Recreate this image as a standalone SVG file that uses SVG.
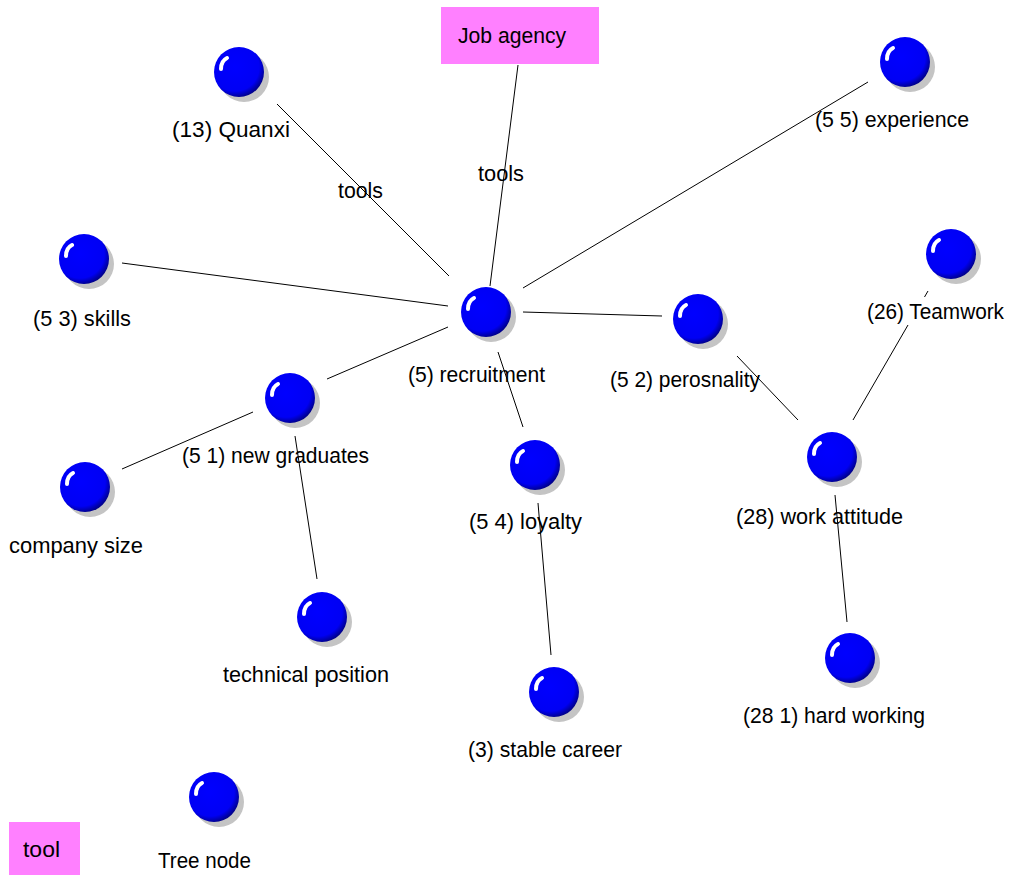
<svg xmlns="http://www.w3.org/2000/svg" width="1011" height="875" viewBox="0 0 1011 875">
<style>
text{font-family:"Liberation Sans",Arial,sans-serif;font-size:22px;fill:#000}
.edge{stroke:#000;stroke-width:1;fill:none}
.box{fill:#ff80ff}
</style>
<defs>
<radialGradient id="bg" cx="0.42" cy="0.4" r="0.62">
<stop offset="0" stop-color="#0000ff"/>
<stop offset="0.78" stop-color="#0000f4"/>
<stop offset="1" stop-color="#000088"/>
</radialGradient>
<g id="ball">
<circle cx="5" cy="5" r="25" fill="#c4c4c4"/>
<circle r="25" fill="url(#bg)"/>
<path d="M -18 -3 Q -18 -11 -12 -14" stroke="#fff" stroke-width="4" fill="none" stroke-linecap="round"/>
</g>
</defs>
<rect width="1011" height="875" fill="#fff"/>
<g id="connectors">
<line class="edge" x1="277" y1="104" x2="449" y2="276"/>
<line class="edge" x1="518" y1="65" x2="490" y2="286"/>
<line class="edge" x1="868" y1="82" x2="523" y2="288"/>
<line class="edge" x1="122" y1="263" x2="448" y2="306"/>
<line class="edge" x1="448" y1="327" x2="327" y2="379"/>
<line class="edge" x1="253" y1="412" x2="122" y2="469"/>
<line class="edge" x1="295" y1="436" x2="317" y2="579"/>
<line class="edge" x1="523" y1="312" x2="662" y2="316"/>
<line class="edge" x1="498" y1="352" x2="523" y2="427"/>
<line class="edge" x1="538" y1="503" x2="551" y2="655"/>
<line class="edge" x1="737" y1="356" x2="798" y2="420"/>
<line class="edge" x1="928" y1="291" x2="924.5" y2="297"/>
<line class="edge" x1="908" y1="325" x2="853" y2="420"/>
<line class="edge" x1="835" y1="495" x2="847" y2="622"/>
<text x="338" y="198" textLength="45" lengthAdjust="spacingAndGlyphs">tools</text>
<text x="478" y="181" textLength="46" lengthAdjust="spacingAndGlyphs">tools</text>
</g>
<g id="job-agency">
<rect class="box" x="441" y="7" width="158" height="57"/>
<text x="458" y="43" textLength="108" lengthAdjust="spacingAndGlyphs">Job agency</text>
</g>
<g id="quanxi"><use href="#ball" x="239" y="72"/><text x="172" y="137" textLength="118" lengthAdjust="spacingAndGlyphs">(13) Quanxi</text></g>
<g id="experience"><use href="#ball" x="905" y="62"/><text x="815" y="127" textLength="154" lengthAdjust="spacingAndGlyphs">(5 5) experience</text></g>
<g id="skills"><use href="#ball" x="84" y="259"/><text x="33" y="326" textLength="98" lengthAdjust="spacingAndGlyphs">(5 3) skills</text></g>
<g id="recruitment"><use href="#ball" x="486" y="312"/><text x="408" y="382" textLength="137" lengthAdjust="spacingAndGlyphs">(5) recruitment</text></g>
<g id="perosnality"><use href="#ball" x="698" y="319"/><text x="610" y="387" textLength="150" lengthAdjust="spacingAndGlyphs">(5 2) perosnality</text></g>
<g id="teamwork"><use href="#ball" x="951" y="254"/><text x="867" y="319" textLength="137" lengthAdjust="spacingAndGlyphs">(26) Teamwork</text></g>
<g id="new-graduates"><use href="#ball" x="290" y="398"/><text x="182" y="463" textLength="187" lengthAdjust="spacingAndGlyphs">(5 1) new graduates</text></g>
<g id="company-size"><use href="#ball" x="85" y="487"/><text x="9" y="553" textLength="134" lengthAdjust="spacingAndGlyphs">company  size</text></g>
<g id="loyalty"><use href="#ball" x="535" y="465"/><text x="469" y="529" textLength="113" lengthAdjust="spacingAndGlyphs">(5 4) loyalty</text></g>
<g id="work-attitude"><use href="#ball" x="832" y="457"/><text x="736" y="524" textLength="167" lengthAdjust="spacingAndGlyphs">(28) work attitude</text></g>
<g id="technical-position"><use href="#ball" x="322" y="617"/><text x="223" y="682" textLength="166" lengthAdjust="spacingAndGlyphs">technical position</text></g>
<g id="stable-career"><use href="#ball" x="554" y="692"/><text x="468" y="757" textLength="154" lengthAdjust="spacingAndGlyphs">(3) stable career</text></g>
<g id="hard-working"><use href="#ball" x="850" y="658"/><text x="743" y="723" textLength="182" lengthAdjust="spacingAndGlyphs">(28 1) hard working</text></g>
<g id="tree-node"><use href="#ball" x="214" y="797"/><text x="158" y="868" textLength="93" lengthAdjust="spacingAndGlyphs">Tree node</text></g>
<g id="tool"><rect class="box" x="9" y="822" width="71" height="53"/><text x="23" y="857" textLength="37" lengthAdjust="spacingAndGlyphs">tool</text></g>
</svg>
